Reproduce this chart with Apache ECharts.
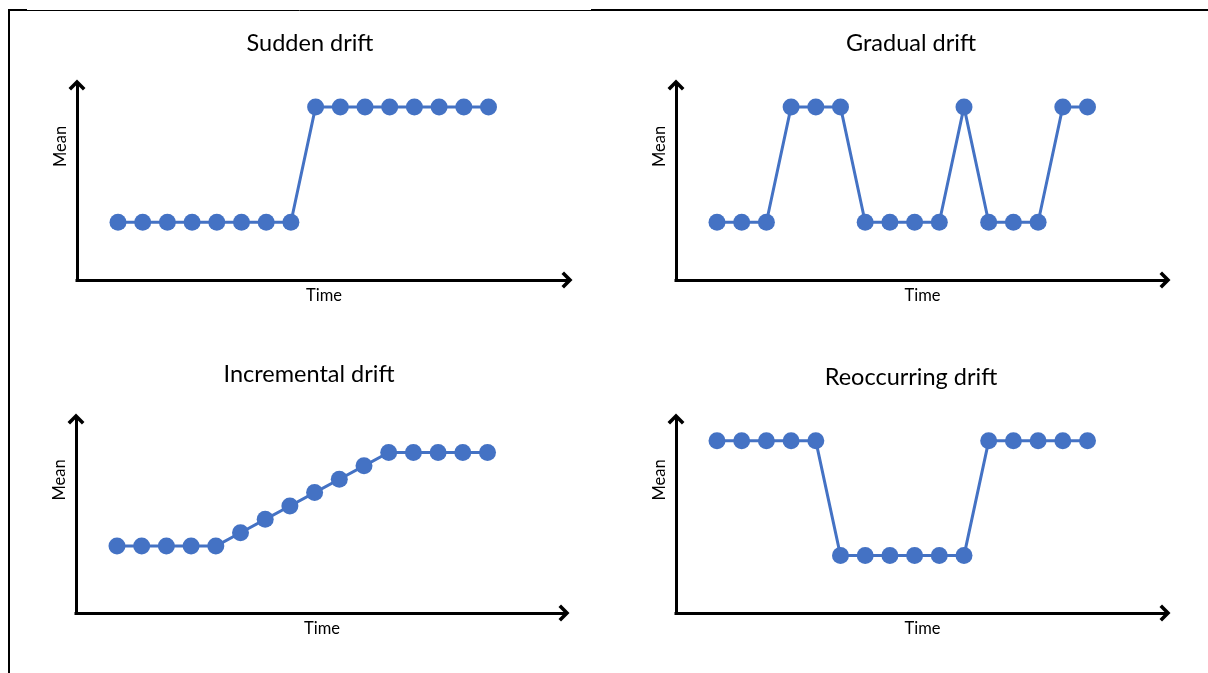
<!DOCTYPE html>
<html>
<head>
<meta charset="utf-8">
<title>Concept drift types</title>
<script src="https://cdn.jsdelivr.net/npm/echarts@6/dist/echarts.min.js"></script>
<style>
  html, body { margin: 0; padding: 0; background: #fff; }
  #chart { width: 1208px; height: 673px; }
</style>
</head>
<body>
<div id="chart"></div>
<script>
// time steps shared by all four panels
const timeSteps = [1, 2, 3, 4, 5, 6, 7, 8, 9, 10, 11, 12, 13, 14, 15, 16];

// mean values (1 = low level, 3 = high level)
const suddenMean      = [1, 1, 1, 1, 1, 1, 1, 1, 3, 3, 3, 3, 3, 3, 3, 3];
const gradualMean     = [1, 1, 1, 3, 3, 3, 1, 1, 1, 1, 3, 1, 1, 1, 3, 3];
const incrementalMean = [5, 5, 5, 5, 5, 6, 7, 8, 9, 10, 11, 12, 12, 12, 12, 12];
const reoccurringMean = [3, 3, 3, 3, 3, 1, 1, 1, 1, 1, 1, 3, 3, 3, 3, 3];

const panelTitles = ['Sudden drift', 'Gradual drift', 'Incremental drift', 'Reoccurring drift'];
const xName = 'Time';
const yName = 'Mean';

const FONT = 'Lato, "Open Sans", sans-serif';
const BLUE = '#4472C4';
// open arrow head pointing up; echarts turns it along the axis
const ARROW = 'path://M8,0 L16,8 L13.6,10.4 L8,4.8 L2.4,10.4 L0,8 Z';

// axis end = arrow tip minus half the arrow height
const grids = [
    { left: 77, top: 85, width: 490, height: 195 },
    { left: 676, top: 85, width: 489, height: 195 },
    { left: 76, top: 419, width: 488, height: 194 },
    { left: 676, top: 419, width: 489, height: 194 }
];
const yMax = [3.38, 3.38, 14.5, 3.38];
const seriesValues = [suddenMean, gradualMean, incrementalMean, reoccurringMean];
const titlePos = [
    { left: 305, top: 26 },
    { left: 906, top: 26 },
    { left: 304, top: 357 },
    { left: 906, top: 360 }
];

const axisLine = {
    show: true,
    onZero: false,
    symbol: ['none', ARROW],
    symbolSize: [17, 11],
    lineStyle: { color: '#000', width: 3, cap: 'square' }
};

const chart = echarts.init(document.getElementById('chart'));

const option = {
    backgroundColor: '#fff',
    animation: false,
    title: panelTitles.map((t, i) => ({
        text: t,
        left: titlePos[i].left,
        top: titlePos[i].top,
        textAlign: 'center',
        textStyle: { fontFamily: FONT, fontSize: 23.5, fontWeight: 'normal', color: '#000' }
    })),
    grid: grids,
    xAxis: grids.map((g, i) => ({
        type: 'value',
        gridIndex: i,
        min: -0.66,
        max: -0.66 + g.width / 24.7,
        name: xName,
        nameLocation: 'middle',
        nameGap: 7,
        nameTextStyle: { fontFamily: FONT, fontSize: 16.5, color: '#000', padding: [0, 0, 0, 4] },
        axisLine: axisLine,
        axisTick: { show: false },
        axisLabel: { show: false },
        splitLine: { show: false }
    })),
    yAxis: grids.map((g, i) => ({
        type: 'value',
        gridIndex: i,
        min: 0,
        max: yMax[i],
        name: yName,
        nameLocation: 'middle',
        nameGap: 8,
        nameTextStyle: { fontFamily: FONT, fontSize: 16.5, color: '#000', padding: [0, 0, 0, 72] },
        axisLine: axisLine,
        axisTick: { show: false },
        axisLabel: { show: false },
        splitLine: { show: false }
    })),
    series: seriesValues.map((vals, i) => ({
        type: 'line',
        xAxisIndex: i,
        yAxisIndex: i,
        data: timeSteps.map((t, k) => [t, vals[k]]),
        symbol: 'circle',
        symbolSize: 17,
        itemStyle: { color: BLUE },
        lineStyle: { color: BLUE, width: 3 }
    })),
    graphic: [
        { type: 'line', shape: { x1: 8, y1: 10.5, x2: 591, y2: 10.5 }, style: { stroke: '#000', lineWidth: 1 } },
        { type: 'line', shape: { x1: 8, y1: 10, x2: 27, y2: 10 }, style: { stroke: '#000', lineWidth: 2 } },
        { type: 'line', shape: { x1: 591, y1: 10, x2: 1208, y2: 10 }, style: { stroke: '#000', lineWidth: 2 } },
        { type: 'line', shape: { x1: 9, y1: 9, x2: 9, y2: 673 }, style: { stroke: '#000', lineWidth: 2 } }
    ]
};

chart.setOption(option);
</script>
</body>
</html>
